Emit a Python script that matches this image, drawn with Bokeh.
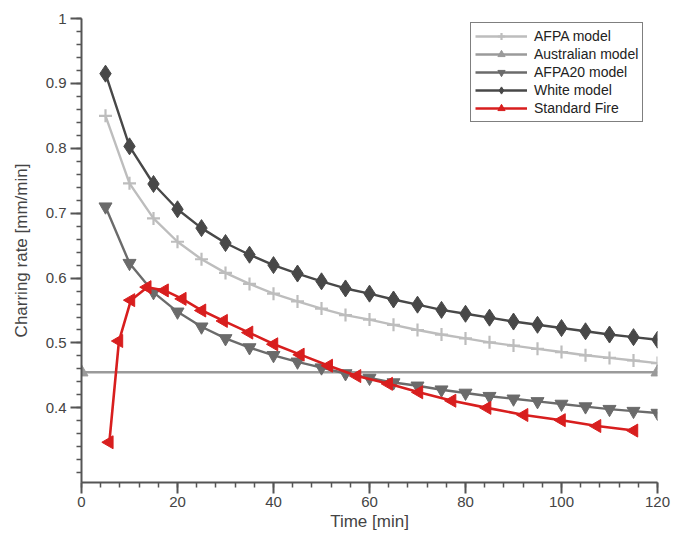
import numpy as np
from bokeh.plotting import figure
from bokeh.models import FixedTicker, Legend, LegendItem
from bokeh.embed import file_html
from bokeh.resources import INLINE

# ---- data ----
time_models = [5, 10, 15, 20, 25, 30, 35, 40, 45, 50, 55, 60, 65, 70, 75, 80,
               85, 90, 95, 100, 105, 110, 115, 120]
afpa = [0.850, 0.746, 0.692, 0.656, 0.629, 0.608, 0.591, 0.576, 0.564, 0.553,
        0.543, 0.536, 0.528, 0.520, 0.513, 0.507, 0.501, 0.496, 0.491, 0.486,
        0.481, 0.477, 0.473, 0.469]
white = [0.915, 0.803, 0.745, 0.706, 0.677, 0.654, 0.636, 0.620, 0.607, 0.595,
         0.584, 0.576, 0.567, 0.559, 0.551, 0.545, 0.539, 0.533, 0.528, 0.523,
         0.518, 0.513, 0.509, 0.505]
afpa20 = [0.710, 0.623, 0.578, 0.548, 0.525, 0.507, 0.493, 0.481, 0.471, 0.462,
          0.453, 0.446, 0.439, 0.434, 0.428, 0.423, 0.418, 0.414, 0.410, 0.406,
          0.402, 0.398, 0.395, 0.392]
time_aus = [0, 120]
australian = [0.455, 0.455]
time_fire = [5.8, 7.8, 10.3, 13.7, 17.3, 21.0, 25.1, 29.6, 34.9, 40.1, 45.6,
             51.5, 57.4, 64.0, 70.3, 77.2, 84.5, 92.2, 100.0, 107.4, 115.1]
standard_fire = [0.347, 0.503, 0.566, 0.586, 0.581, 0.568, 0.550, 0.534, 0.516,
                 0.498, 0.482, 0.465, 0.449, 0.437, 0.424, 0.411, 0.400, 0.389,
                 0.381, 0.372, 0.365]

x_major = [0, 20, 40, 60, 80, 100, 120]
y_major = [0.4, 0.5, 0.6, 0.7, 0.8, 0.9, 1.0]
y_labels = ["0.4", "0.5", "0.6", "0.7", "0.8", "0.9", "1"]

FONT = "Liberation Sans"
AXIS_COL = "#555555"
TEXT_COL = "#444444"

p = figure(width=673, height=534, output_backend="svg", toolbar_location=None,
           x_range=(0, 120), y_range=(0.285, 1.0),
           min_border_left=81, min_border_right=16, min_border_top=18,
           min_border_bottom=52)
p.outline_line_color = None
p.xgrid.visible = False
p.ygrid.visible = False

# series
c_afpa = "#bdbdbd"
c_aus = "#9a9a9a"
c_afpa20 = "#6b6b6b"
c_white = "#484848"
c_fire = "#d81e1e"

LW = 2.4
r1l = p.line(time_models, afpa, line_color=c_afpa, line_width=LW)
r1m = p.scatter(time_models, afpa, marker="cross", size=13, line_color=c_afpa,
                line_width=2.2)
r2l = p.line(time_aus, australian, line_color=c_aus, line_width=LW)
r2m = p.scatter(time_aus, australian, marker="triangle", size=13,
                fill_color=c_aus, line_color=c_aus)
r3l = p.line(time_models, afpa20, line_color=c_afpa20, line_width=LW)
r3m = p.scatter(time_models, afpa20, marker="inverted_triangle", size=13,
                fill_color=c_afpa20, line_color=c_afpa20)
r4l = p.line(time_models, white, line_color=c_white, line_width=LW)
r4m = p.scatter(time_models, white, marker="diamond", size=17,
                fill_color=c_white, line_color=c_white)
r5l = p.line(time_fire, standard_fire, line_color=c_fire, line_width=2.6)
r5m = p.scatter(time_fire, standard_fire, marker="triangle", angle=np.pi / 2,
                size=13, fill_color=c_fire, line_color=c_fire)

legend = Legend(items=[
    LegendItem(label="AFPA model", renderers=[r1l, r1m]),
    LegendItem(label="Australian model", renderers=[r2l, r2m]),
    LegendItem(label="AFPA20 model", renderers=[r3l, r3m]),
    LegendItem(label="White model", renderers=[r4l, r4m]),
    LegendItem(label="Standard Fire", renderers=[r5l, r5m]),
], location=(389, 360))
legend.border_line_color = "black"
legend.border_line_width = 1.2
legend.background_fill_alpha = 1
legend.label_text_font = FONT
legend.label_text_font_size = "14px"
legend.label_text_color = "#222222"
legend.glyph_width = 52
legend.glyph_height = 18
legend.label_height = 18
legend.spacing = 0
legend.padding = 4
legend.margin = 0
legend.label_standoff = 7
p.add_layout(legend, "center")

# axes
xa = p.xaxis[0]
xa.ticker = FixedTicker(ticks=x_major, minor_ticks=list(range(0, 121, 4)))
xa.axis_label = "Time [min]"
ya = p.yaxis[0]
ya.ticker = FixedTicker(ticks=y_major,
                        minor_ticks=[round(0.28 + 0.02 * i, 2) for i in range(37)])
ya.major_label_overrides = {v: s for v, s in zip(y_major, y_labels)}
ya.axis_label = "Charring rate [mm/min]"

for ax in (xa, ya):
    ax.axis_line_color = AXIS_COL
    ax.axis_line_width = 2
    ax.major_tick_line_color = AXIS_COL
    ax.minor_tick_line_color = AXIS_COL
    ax.major_tick_line_width = 2
    ax.minor_tick_line_width = 1.5
    ax.major_tick_in = 0
    ax.major_tick_out = 11
    ax.minor_tick_in = 0
    ax.minor_tick_out = 5
    ax.major_label_text_font = FONT
    ax.major_label_text_font_size = "15px"
    ax.major_label_text_color = TEXT_COL
    ax.axis_label_text_font = FONT
    ax.axis_label_text_font_size = "17px"
    ax.axis_label_text_font_style = "normal"
    ax.axis_label_text_color = TEXT_COL

xa.major_label_standoff = 3
xa.axis_label_standoff = 2
ya.major_label_standoff = 4
ya.axis_label_standoff = 12

open("out.html", "w").write(file_html(p, INLINE))
